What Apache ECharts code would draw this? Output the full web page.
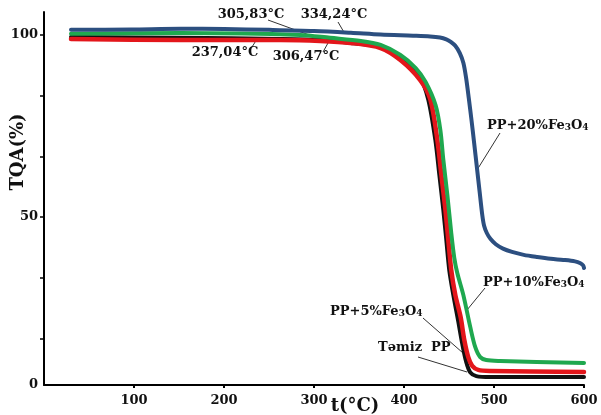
<!DOCTYPE html>
<html>
<head>
<meta charset="utf-8">
<script src="https://cdn.jsdelivr.net/npm/echarts@6/dist/echarts.min.js"></script>
<style>
  html, body { margin: 0; padding: 0; background: #fff; }
  #chart { width: 601px; height: 415px; }
</style>
</head>
<body>
<div id="chart"></div>
<script>
// TQA curves, [t (°C), mass (%)]
var tamizPP = [[30,99.45],[152,99.2],[263,98.9],[307,98.6],[340.5,97.8],[374,96.7],[396,93.7],[418,88.2],[427,82.2],[434.8,71.2],[439.3,61.5],[443.7,51.9],[447,43.7],[450.3,35.4],[454.8,28.6],[460.3,21.3],[464.7,15.2],[469,10.3],[473.6,7.3],[480.3,6.3],[496,6.05],[600,6.05]];
var pp5 = [[30,98.9],[152,98.6],[263,98.6],[307,98.35],[340.5,97.8],[374,96.4],[396,93.1],[418,87.6],[429.3,82.2],[437,71.2],[441.5,61.5],[446,51.9],[449.2,43.7],[452.5,35.4],[457,28.6],[463,22.4],[467,16.2],[471.4,11.5],[475.8,9.1],[482.5,8.0],[496,7.7],[600,7.4]];
var pp10 = [[30,100.3],[152,100.5],[285,100.0],[318,99.2],[352,98.35],[374,97.25],[396,94.5],[413,90.9],[424,87.1],[435,80.8],[440.4,73.9],[443.7,65.7],[448.2,56.0],[452.5,45.6],[455.9,38.7],[459.2,34.6],[465.9,28.6],[473.6,19.8],[479.1,14.3],[484.7,11.5],[491.4,10.7],[507,10.45],[600,9.9]];
var pp20 = [[30,101.4],[97,101.5],[152,101.7],[200,101.6],[250,101.4],[300,101.1],[341,100.6],[374,100.1],[410,99.8],[429,99.6],[440,99.3],[447,98.8],[452,98.1],[457,97.0],[462,95.0],[466,92.3],[469,88.2],[472,82.6],[475,76.6],[478,70.2],[481,63.6],[484,57.0],[487,50.5],[489,47.6],[492,45.6],[496,44.0],[502,42.5],[510,41.3],[520,40.4],[533,39.6],[548,39.0],[563,38.5],[577,38.2],[590,37.8],[596,37.3],[599,36.7],[600,36.0]];

var xTicks = [100, 200, 300, 400, 500, 600];
var yFloor = 3.85;              // bottom axis sits here, labelled "0"
var yLabels = [yFloor, 50, 100];
var yTicks = [16.67, 33.33, 50, 66.67, 83.33, 100];

var FONT = 'DejaVu Serif';

// annotations: text + leader line (pixels)
var notes = [
  { text: '305,83°C', x: 251, y: 15, align: 'center', line: [268, 20, 323, 40] },
  { text: '334,24°C', x: 334, y: 15, align: 'center', line: [338, 22, 345, 34] },
  { text: '237,04°C', x: 225, y: 53, align: 'center', line: [252, 47, 257, 39] },
  { text: '306,47°C', x: 306, y: 57, align: 'center', line: [323, 52, 328, 43] },
  { text: 'PP+20%Fe{s|3}O{s|4}', x: 487, y: 126, align: 'left', line: [500, 133, 477, 170] },
  { text: 'PP+10%Fe{s|3}O{s|4}', x: 483, y: 283, align: 'left', line: [485, 288, 467, 310] },
  { text: 'PP+5%Fe{s|3}O{s|4}', x: 330, y: 312, align: 'left', line: [423, 318, 463, 353] },
  { text: 'Təmiz  PP', x: 378, y: 348, align: 'left', line: [418, 357, 467, 372] }
];

var graphics = [];
notes.forEach(function (n) {
  graphics.push({
    type: 'line', silent: true,
    shape: { x1: n.line[0], y1: n.line[1], x2: n.line[2], y2: n.line[3] },
    style: { stroke: '#333', lineWidth: 1 }
  });
  graphics.push({
    type: 'text', silent: true, x: n.x, y: n.y,
    style: {
      text: n.text, fill: '#111', fontFamily: FONT, fontWeight: 'bold', fontSize: 13,
      align: n.align, verticalAlign: 'middle',
      rich: { s: { fontFamily: FONT, fontWeight: 'bold', fontSize: 9, fill: '#111', verticalAlign: 'bottom', padding: [3, 0, 0, 0] } }
    }
  });
});
graphics.push({
  type: 'text', silent: true, x: 355, y: 406,
  style: { text: 't(°C)', fill: '#111', fontFamily: FONT, fontWeight: 'bold', fontSize: 18, align: 'center', verticalAlign: 'middle' }
});
graphics.push({
  type: 'text', silent: true, x: 18, y: 152, rotation: Math.PI / 2,
  style: { text: 'TQA(%)', fill: '#111', fontFamily: FONT, fontWeight: 'bold', fontSize: 18, align: 'center', verticalAlign: 'middle' }
});

function curve(name, data, color, width) {
  return {
    name: name, type: 'line', data: data, showSymbol: false,
    smooth: 0.3,
    lineStyle: { color: color, width: width, cap: 'round', join: 'round' }
  };
}

var chart = echarts.init(document.getElementById('chart'));
chart.setOption({
  animation: false,
  backgroundColor: '#fff',
  grid: { left: 44, right: 17, top: 12, bottom: 30 },
  xAxis: {
    type: 'value', min: 0, max: 600,
    splitLine: { show: false },
    axisLine: { onZero: false, lineStyle: { color: '#000', width: 2 } },
    axisTick: { customValues: xTicks, length: 3, lineStyle: { color: '#000', width: 2 } },
    axisLabel: { customValues: xTicks, margin: 9, color: '#111', fontFamily: FONT, fontWeight: 'bold', fontSize: 13 }
  },
  yAxis: {
    type: 'value', min: yFloor, max: 106.3,
    splitLine: { show: false },
    axisLine: { show: true, lineStyle: { color: '#000', width: 2 } },
    axisTick: { show: true, customValues: yTicks, length: 4, lineStyle: { color: '#000', width: 1.5 } },
    axisLabel: {
      customValues: yLabels, margin: 6, color: '#111', fontFamily: FONT, fontWeight: 'bold', fontSize: 13,
      formatter: function (v) { return v === yFloor ? '0' : String(Math.round(v)); }
    }
  },
  series: [
    curve('Təmiz PP', tamizPP, '#111111', 4),
    curve('PP+5%Fe3O4', pp5, '#e3161b', 4.5),
    curve('PP+10%Fe3O4', pp10, '#1fa84f', 4),
    curve('PP+20%Fe3O4', pp20, '#2c4f80', 4)
  ],
  graphic: graphics
});
</script>
</body>
</html>
